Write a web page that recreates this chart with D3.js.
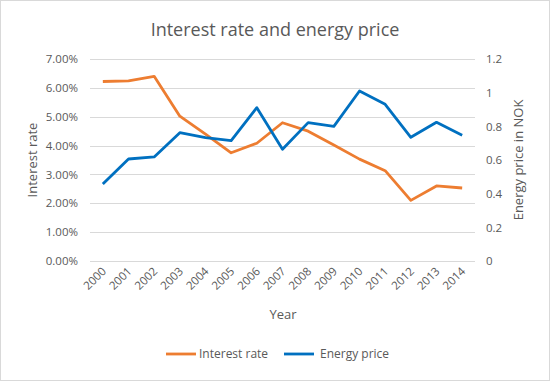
<!DOCTYPE html>
<html>
<head>
<meta charset="utf-8">
<script src="https://cdn.jsdelivr.net/npm/d3@7"></script>
<style>
  body { margin: 0; background: #fff; }
  svg { font-family: "Open Sans", "Liberation Sans", sans-serif; }
</style>
</head>
<body>
<script>
// data
var years = ["2000","2001","2002","2003","2004","2005","2006","2007","2008","2009","2010","2011","2012","2013","2014"];
var interestRate = [6.22, 6.24, 6.40, 5.02, 4.40, 3.75, 4.08, 4.79, 4.50, 4.02, 3.53, 3.13, 2.10, 2.60, 2.53];
var energyPrice = [0.457, 0.606, 0.618, 0.762, 0.733, 0.715, 0.911, 0.664, 0.822, 0.800, 1.010, 0.931, 0.735, 0.824, 0.747];
var leftTicks = [0, 1, 2, 3, 4, 5, 6, 7];
var rightTicks = [0, 0.2, 0.4, 0.6, 0.8, 1, 1.2];

var W = 550, H = 381;
var plot = { left: 90, right: 475, top: 59, bottom: 261 };

var svg = d3.select("body").append("svg")
    .attr("width", W)
    .attr("height", H);

// rand om de grafiek
svg.append("rect")
    .attr("x", 0.5).attr("y", 0.5)
    .attr("width", W - 1).attr("height", H - 1)
    .attr("fill", "#fff")
    .attr("stroke", "#d9d9d9");

var x = d3.scaleBand()
    .domain(years)
    .range([plot.left, plot.right]);

var yL = d3.scaleLinear().domain([0, 7]).range([plot.bottom, plot.top]);
var yR = d3.scaleLinear().domain([0, 1.2]).range([plot.bottom, plot.top]);

// rasterlijnen
svg.append("g")
    .selectAll("line")
    .data(leftTicks)
    .enter().append("line")
    .attr("x1", plot.left).attr("x2", plot.right)
    .attr("y1", function (d) { return Math.round(yL(d)) + 0.5; })
    .attr("y2", function (d) { return Math.round(yL(d)) + 0.5; })
    .attr("stroke", "#d9d9d9");

// linker as
var axL = svg.append("g")
    .attr("transform", "translate(" + plot.left + ",0)")
    .call(d3.axisLeft(yL).tickValues(leftTicks).tickSize(0).tickPadding(12)
        .tickFormat(function (d) { return d.toFixed(2) + "%"; }));
axL.select(".domain").remove();

// rechter as
var axR = svg.append("g")
    .attr("transform", "translate(" + plot.right + ",0)")
    .call(d3.axisRight(yR).tickValues(rightTicks).tickSize(0).tickPadding(11)
        .tickFormat(function (d) { return d; }));
axR.select(".domain").remove();

// onderste as
var axB = svg.append("g")
    .attr("transform", "translate(0," + plot.bottom + ")")
    .call(d3.axisBottom(x).tickSize(0).tickPadding(0));
axB.select(".domain").remove();
axB.selectAll("text")
    .attr("text-anchor", "end")
    .attr("dy", "0")
    .attr("transform", "translate(4,11) rotate(-45)");

svg.selectAll(".tick text")
    .attr("fill", "#595959")
    .attr("font-size", 11.5)
    .attr("font-family", "Open Sans, sans-serif");

// lijnen
var line = function (scale) {
    return d3.line()
        .x(function (d, i) { return x(years[i]) + x.bandwidth() / 2; })
        .y(function (d) { return scale(d); });
};

svg.append("path")
    .datum(interestRate)
    .attr("fill", "none")
    .attr("stroke", "#ED7D31")
    .attr("stroke-width", 2.8)
    .attr("stroke-linejoin", "round")
    .attr("d", line(yL));

svg.append("path")
    .datum(energyPrice)
    .attr("fill", "none")
    .attr("stroke", "#0070C0")
    .attr("stroke-width", 2.8)
    .attr("stroke-linejoin", "round")
    .attr("d", line(yR));

// titels
svg.append("text")
    .attr("x", 275).attr("y", 36)
    .attr("text-anchor", "middle")
    .attr("fill", "#595959")
    .attr("font-size", 18)
    .text("Interest rate and energy price");

svg.append("text")
    .attr("transform", "translate(37,160) rotate(-90)")
    .attr("text-anchor", "middle")
    .attr("fill", "#595959")
    .attr("font-size", 13)
    .text("Interest rate");

svg.append("text")
    .attr("transform", "translate(523,160) rotate(-90)")
    .attr("text-anchor", "middle")
    .attr("fill", "#595959")
    .attr("font-size", 13)
    .text("Energy price in NOK");

svg.append("text")
    .attr("x", 283).attr("y", 319)
    .attr("text-anchor", "middle")
    .attr("fill", "#595959")
    .attr("font-size", 13)
    .text("Year");

// legenda
var legend = [
    { name: "Interest rate", color: "#ED7D31", x: 166, gap: 33 },
    { name: "Energy price", color: "#0070C0", x: 284, gap: 36 }
];
var lg = svg.append("g")
    .selectAll("g")
    .data(legend)
    .enter().append("g")
    .attr("transform", function (d) { return "translate(" + d.x + ",354)"; });
lg.append("line")
    .attr("x1", 0).attr("x2", 30)
    .attr("stroke", function (d) { return d.color; })
    .attr("stroke-width", 2.8);
lg.append("text")
    .attr("x", function (d) { return d.gap; })
    .attr("dy", "0.35em")
    .attr("fill", "#595959")
    .attr("font-size", 12)
    .text(function (d) { return d.name; });
</script>
</body>
</html>
